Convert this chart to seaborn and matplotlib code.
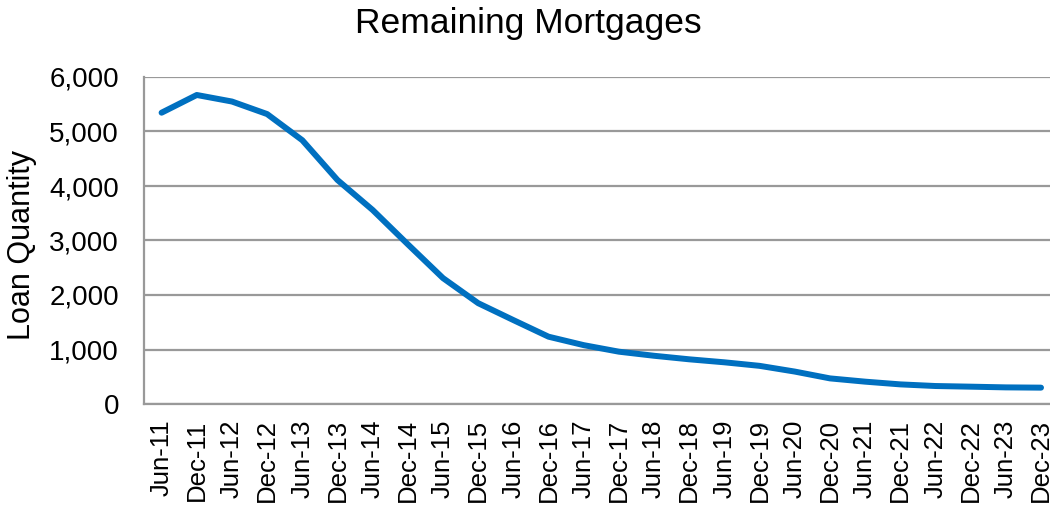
import matplotlib
matplotlib.use("Agg")
import matplotlib.pyplot as plt
import seaborn as sns
import pandas as pd
from matplotlib.ticker import FuncFormatter, MultipleLocator

periods = ["Jun-11", "Dec-11", "Jun-12", "Dec-12", "Jun-13", "Dec-13", "Jun-14",
           "Dec-14", "Jun-15", "Dec-15", "Jun-16", "Dec-16", "Jun-17", "Dec-17",
           "Jun-18", "Dec-18", "Jun-19", "Dec-19", "Jun-20", "Dec-20", "Jun-21",
           "Dec-21", "Jun-22", "Dec-22", "Jun-23", "Dec-23"]
loans = [5345, 5670, 5550, 5320, 4840, 4110, 3560, 2930, 2310, 1850, 1540, 1235,
         1080, 960, 885, 820, 765, 700, 595, 470, 410, 360, 330, 318, 305, 300]

df = pd.DataFrame({"Period": periods, "Loans": loans})

sns.set_theme(style="white")
plt.rcParams["font.family"] = ["Liberation Sans", "DejaVu Sans"]
plt.rcParams["text.color"] = "black"

fig = plt.figure(figsize=(10.5, 5.05), dpi=100)
ax = fig.add_axes([144 / 1050, 101 / 505, (1058.6 - 144) / 1050, 327 / 505])

sns.lineplot(data=df, x="Period", y="Loans", ax=ax, color="#0070C0",
             linewidth=4.3, sort=False, solid_capstyle="round", solid_joinstyle="round")

ax.set_xlim(-0.5, len(periods) - 0.5)
ax.set_ylim(0, 6000)
ax.yaxis.set_major_locator(MultipleLocator(1000))
ax.yaxis.set_major_formatter(FuncFormatter(lambda v, p: f"{int(v):,}"))
ax.grid(axis="y", color="#999999", linewidth=1.6)
ax.set_axisbelow(True)

for s in ["top", "right"]:
    ax.spines[s].set_visible(False)
for s in ["left", "bottom"]:
    ax.spines[s].set_color("#999999")
    ax.spines[s].set_linewidth(1.6)

ax.tick_params(axis="x", labelrotation=90, labelsize=18.5, length=0, pad=11, labelcolor="black")
ax.tick_params(axis="y", labelsize=20, length=0, pad=18, labelcolor="black")
ax.set_xlabel("")
ax.set_ylabel("")

fig.text(22 / 1050, 1 - 245 / 505, "Loan Quantity", rotation=90, ha="center", va="center",
         fontsize=22, color="black")
fig.text(528 / 1050, 1 - 23 / 505, "Remaining Mortgages", ha="center", va="center",
         fontsize=25.5, color="black")

fig.savefig("out.png", dpi=100)
